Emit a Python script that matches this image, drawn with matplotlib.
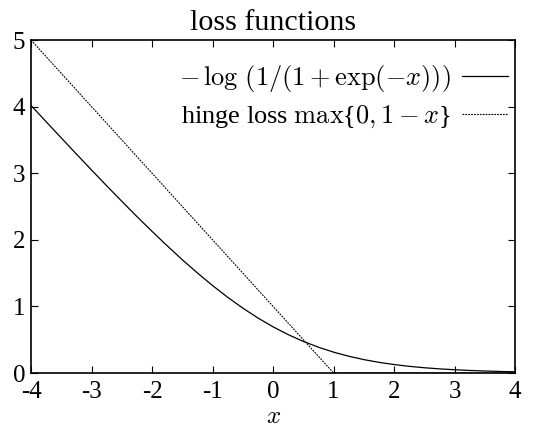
import matplotlib
matplotlib.use("Agg")
import matplotlib.pyplot as plt

# -------- DATA --------
x_logistic = [-4, -3.75, -3.5, -3.25, -3, -2.75, -2.5, -2.25, -2, -1.75, -1.5,
              -1.25, -1, -0.75, -0.5, -0.25, 0, 0.25, 0.5, 0.75, 1, 1.25, 1.5,
              1.75, 2, 2.25, 2.5, 2.75, 3, 3.25, 3.5, 3.75, 4]
y_logistic = [4.018, 3.773, 3.530, 3.288, 3.049, 2.811, 2.579, 2.349, 2.127,
              1.910, 1.701, 1.502, 1.313, 1.137, 0.974, 0.826, 0.693, 0.576,
              0.474, 0.387, 0.313, 0.252, 0.201, 0.160, 0.127, 0.100, 0.079,
              0.062, 0.049, 0.038, 0.030, 0.023, 0.018]
x_hinge = [-4, 1, 4]
y_hinge = [5, 0, 0]

x_ticks = [-4, -3, -2, -1, 0, 1, 2, 3, 4]
y_ticks = [0, 1, 2, 3, 4, 5]

# -------- STYLE --------
plt.rcParams["font.family"] = ["Liberation Serif", "DejaVu Serif"]
plt.rcParams["mathtext.fontset"] = "cm"
plt.rcParams["font.size"] = 18

fig = plt.figure(figsize=(5.44, 4.28), dpi=100)
ax = fig.add_axes([0.057, 0.1285, 0.890, 0.778])

ax.plot(x_logistic, y_logistic, color="black", lw=0.9,
        label=r"$-\,\log\,\left(1/(1+\exp(-x))\right)$")
ax.plot(x_hinge, y_hinge, color="black", lw=0.8, linestyle=(0, (1.6, 1.0)),
        label=r"hinge loss $\max${$0,1-x$}")

ax.set_xlim(-4, 4)
ax.set_ylim(0, 5)
ax.set_xticks(x_ticks)
ax.set_xticklabels([str(t) for t in x_ticks])
ax.set_yticks(y_ticks)
ax.tick_params(direction="in", top=True, right=True, length=5, width=0.8)
ax.tick_params(axis="x", pad=6)
ax.tick_params(axis="y", pad=4)
for s in ax.spines.values():
    s.set_linewidth(1.2)

ax.set_title("loss functions", pad=7)
ax.set_xlabel(r"$x$", labelpad=2)

ax.legend(loc="upper right", frameon=False, markerfirst=False,
          handlelength=1.75, handletextpad=0.4, borderaxespad=0.3,
          labelspacing=0.35, bbox_to_anchor=(1.023, 0.985), fontsize=19)

fig.savefig("out.png", dpi=100)
